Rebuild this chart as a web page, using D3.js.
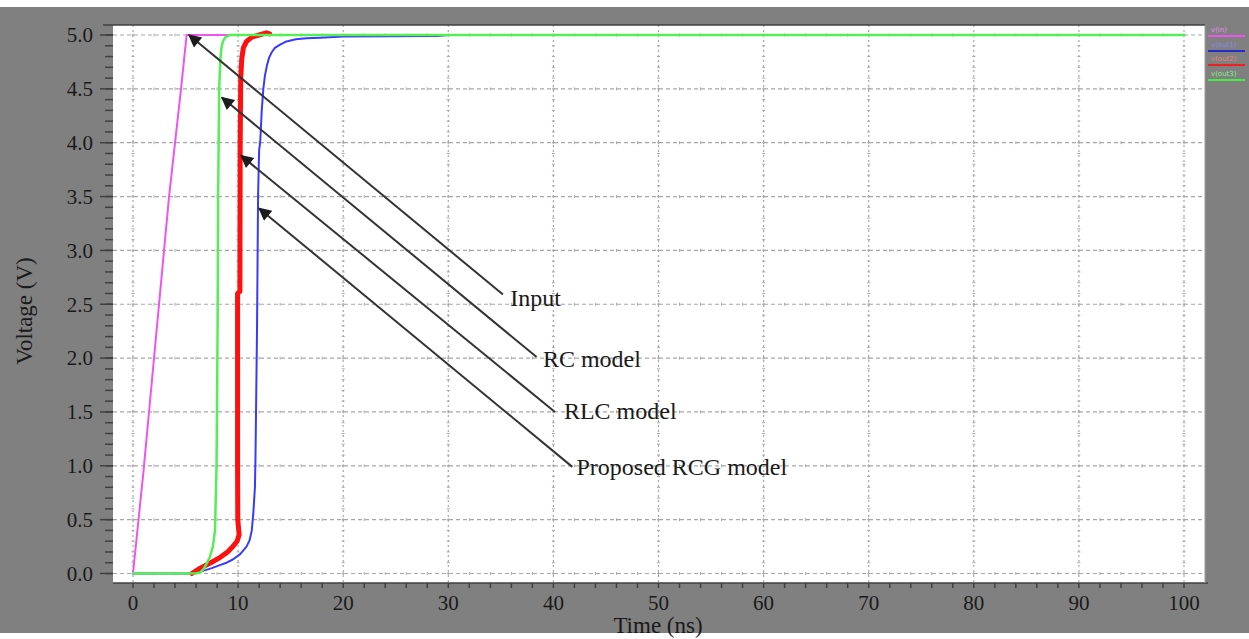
<!DOCTYPE html>
<html><head><meta charset="utf-8">
<script src="https://cdn.jsdelivr.net/npm/d3@7/dist/d3.min.js"></script>
<style>html,body{margin:0;padding:0;background:#fff;}svg{display:block;}</style>
</head><body>
<svg id="c" width="1249" height="639"></svg>
<script>
// ---------- data ----------
const xTicks = [0,10,20,30,40,50,60,70,80,90,100];
const yTicks = [0.0,0.5,1.0,1.5,2.0,2.5,3.0,3.5,4.0,4.5,5.0];
const xTickLabels = xTicks.map(d => String(d));
const yTickLabels = yTicks.map(d => d.toFixed(1));

// Input (magenta)
const inputT = [0, 1, 3.43, 4.57, 5.1, 100];
const inputV = [0, 0.95, 3.5, 4.5, 5.0, 5.0];
// RC model (green)
const rcT = [0, 5.2, 6.0, 6.4, 6.7, 7.0, 7.3, 7.6, 7.8, 7.95, 8.05, 8.1, 8.2, 8.3, 8.4, 8.55, 8.8, 9.2, 100];
const rcV = [0, 0, 0.003, 0.01, 0.04, 0.09, 0.15, 0.25, 0.4, 1.0, 2.3, 3.5, 4.5, 4.75, 4.87, 4.94, 4.98, 5.0, 5.0];
// RLC model (red)
const rlcT = [5.6, 6.4, 7.4, 8.3, 9.0, 9.5, 9.9, 10.1, 9.97, 9.95, 9.95, 10.17, 10.2, 10.25, 10.35, 10.5, 10.8, 11.3, 12.0, 12.7, 13.0];
const rlcV = [0, 0.05, 0.1, 0.15, 0.2, 0.25, 0.3, 0.36, 0.5, 1.0, 2.6, 2.62, 4.0, 4.6, 4.78, 4.88, 4.94, 4.98, 5.0, 5.02, 5.01];
// Proposed RCG model (blue)
const rcgT = [0, 5.7, 6.5, 7.5, 8.2, 8.9, 9.5, 10.2, 10.8, 11.1, 11.3, 11.45, 11.6, 11.65, 11.8, 11.9, 12.0, 12.1, 12.25, 12.4, 12.55, 12.75, 12.95, 13.2, 13.5, 14.0, 14.6, 15.5, 16.5, 17.8, 20, 29, 30, 100];
const rcgV = [0, 0, 0.02, 0.05, 0.075, 0.1, 0.13, 0.18, 0.25, 0.31, 0.4, 0.56, 0.8, 1.05, 2.26, 3.5, 3.93, 4.0, 4.3, 4.5, 4.62, 4.72, 4.79, 4.84, 4.88, 4.91, 4.94, 4.96, 4.97, 4.975, 4.985, 4.99, 5.0, 5.0];

const seriesNames = ["Input", "RC model", "RLC model", "Proposed RCG model"];
const legendLabels = ["v(in)", "v(out1)", "v(out2)", "v(out3)"];

// annotations: arrow tip (t,v), arrow tail (t,v), label anchor (t,v)
const annTipT = [5.33, 8.46, 10.28, 12.0];
const annTipV = [5.0, 4.42, 3.88, 3.39];
const annTailT = [35.2, 38.4, 40.15, 41.8];
const annTailV = [2.59, 2.01, 1.50, 0.99];
const annLabelT = [35.9, 39.0, 41.0, 42.2];
const annLabelV = [2.48, 1.92, 1.43, 0.915];

// ---------- layout ----------
const svg = d3.select("#c");
const W = 1249, H = 639;
const plot = {l:113, r:1205, t:25, b:583};
const x = d3.scaleLinear().domain([0,100]).range([133,1184]);
const y = d3.scaleLinear().domain([0,5]).range([573.5,35]);

// background
svg.append("rect").attr("x",0).attr("y",7).attr("width",W).attr("height",626).attr("fill","#808080");
svg.append("rect").attr("x",plot.l).attr("y",plot.t).attr("width",plot.r-plot.l).attr("height",plot.b-plot.t).attr("fill","#ffffff");

const gridC = "#a8a8a8";
const g = svg.append("g");
const yMinor = d3.range(0, 5.0001, 0.1);
const xMinor = d3.range(0, 100.0001, 2);

g.selectAll(".hg").data(yTicks).join("line")
  .attr("x1",plot.l).attr("x2",plot.r).attr("y1",d=>y(d)).attr("y2",d=>y(d))
  .attr("stroke",gridC).attr("stroke-width",1.2).attr("stroke-dasharray","4,3");
g.selectAll(".vg").data(xTicks).join("line")
  .attr("y1",plot.t).attr("y2",plot.b).attr("x1",d=>x(d)).attr("x2",d=>x(d))
  .attr("stroke",gridC).attr("stroke-width",1.2).attr("stroke-dasharray","2,3");
xTicks.forEach(xt => {
  g.selectAll(null).data(yMinor).join("line")
    .attr("x1",x(xt)-1.5).attr("x2",x(xt)+1.5).attr("y1",d=>y(d)).attr("y2",d=>y(d))
    .attr("stroke",gridC).attr("stroke-width",1);
});
yTicks.forEach(yt => {
  g.selectAll(null).data(xMinor).join("line")
    .attr("x1",d=>x(d)).attr("x2",d=>x(d)).attr("y1",y(yt)-1.5).attr("y2",y(yt)+1.5)
    .attr("stroke",gridC).attr("stroke-width",1);
});

const frameC = "#404040";
svg.append("line").attr("x1",103).attr("x2",plot.r).attr("y1",plot.t).attr("y2",plot.t).attr("stroke",frameC).attr("stroke-width",1.5);
svg.append("line").attr("x1",plot.l).attr("x2",plot.r+3).attr("y1",plot.b).attr("y2",plot.b).attr("stroke",frameC).attr("stroke-width",1.5);
svg.append("line").attr("x1",plot.r).attr("x2",plot.r).attr("y1",plot.t).attr("y2",plot.b).attr("stroke","#999").attr("stroke-width",1);

svg.selectAll(".ymin").data(yMinor).join("line")
  .attr("x1",105).attr("x2",plot.l).attr("y1",d=>y(d)).attr("y2",d=>y(d))
  .attr("stroke",frameC).attr("stroke-width",1.5);
svg.selectAll(".ymaj").data(yTicks).join("line")
  .attr("x1",100).attr("x2",plot.l).attr("y1",d=>y(d)).attr("y2",d=>y(d))
  .attr("stroke",frameC).attr("stroke-width",1.5);
svg.selectAll(".xmin").data(xMinor).join("line")
  .attr("x1",d=>x(d)).attr("x2",d=>x(d)).attr("y1",plot.b).attr("y2",plot.b+5)
  .attr("stroke",frameC).attr("stroke-width",1.5);

const font = "'Liberation Serif','Times New Roman',serif";
const txtC = "#1a1a1a";
svg.selectAll(".yl").data(yTicks).join("text")
  .attr("x",93).attr("y",d=>y(d)).attr("dy","0.35em").attr("text-anchor","end")
  .attr("font-family",font).attr("font-size",21).attr("fill",txtC)
  .text((d,i)=>yTickLabels[i]);
svg.selectAll(".xl").data(xTicks).join("text")
  .attr("x",d=>x(d)).attr("y",610).attr("text-anchor","middle")
  .attr("font-family",font).attr("font-size",21).attr("fill",txtC)
  .text((d,i)=>xTickLabels[i]);

svg.append("text").attr("transform","translate(32,311) rotate(-90)").attr("text-anchor","middle")
  .attr("font-family",font).attr("font-size",23).attr("fill",txtC).text("Voltage (V)");
svg.append("text").attr("x",658).attr("y",633).attr("text-anchor","middle")
  .attr("font-family",font).attr("font-size",23).attr("fill",txtC).text("Time (ns)");

// curves
const line = d3.line().x(d=>x(d[0])).y(d=>y(d[1])).curve(d3.curveLinear);
const zip = (a,b) => a.map((v,i)=>[v,b[i]]);
const curves = [
  {t:rcgT, v:rcgV, c:"#3a3aff", w:2},
  {t:inputT, v:inputV, c:"#ee55ee", w:2},
  {t:rlcT, v:rlcV, c:"#ff1010", w:5},
  {t:rcT, v:rcV, c:"#55ee55", w:2.5}
];
svg.append("clipPath").attr("id","pc").append("rect")
  .attr("x",plot.l).attr("y",plot.t-4).attr("width",plot.r-plot.l).attr("height",plot.b-plot.t+4);
const cg = svg.append("g").attr("clip-path","url(#pc)");
curves.forEach(s => {
  cg.append("path").attr("d", line(zip(s.t,s.v))).attr("fill","none")
    .attr("stroke",s.c).attr("stroke-width",s.w).attr("stroke-linejoin","round").attr("stroke-linecap","round");
});

// annotations
const defs = svg.append("defs");
defs.append("marker").attr("id","ah").attr("viewBox","0 0 10 10").attr("refX",9).attr("refY",5)
  .attr("markerWidth",8).attr("markerHeight",6.5).attr("markerUnits","strokeWidth").attr("orient","auto")
  .append("path").attr("d","M0,0 L10,5 L0,10 z").attr("fill","#1c1c1c");
seriesNames.forEach((name,i) => {
  svg.append("line")
    .attr("x1",x(annTailT[i])).attr("y1",y(annTailV[i]))
    .attr("x2",x(annTipT[i])).attr("y2",y(annTipV[i]))
    .attr("stroke","#333").attr("stroke-width",2).attr("marker-end","url(#ah)");
  svg.append("text").attr("x",x(annLabelT[i])).attr("y",y(annLabelV[i]))
    .attr("font-family",font).attr("font-size",24).attr("fill",txtC).text(name);
});

// legend (top right)
const legColors = ["#ee55ee","#2a2acc","#ee2020","#44ee44"];
const legTextColors = ["#e890e8","#8888ee","#ee8080","#88ee88"];
const legY = [30, 45, 59, 74];
legendLabels.forEach((lab,i) => {
  svg.append("text").attr("x",1211).attr("y",legY[i]+2).attr("font-family","'DejaVu Sans',sans-serif")
    .attr("font-size",7).attr("fill",legTextColors[i]).text(lab);
  svg.append("line").attr("x1",1208).attr("x2",1245).attr("y1",legY[i]+6).attr("y2",legY[i]+6)
    .attr("stroke",legColors[i]).attr("stroke-width",2);
});
</script>
</body></html>
